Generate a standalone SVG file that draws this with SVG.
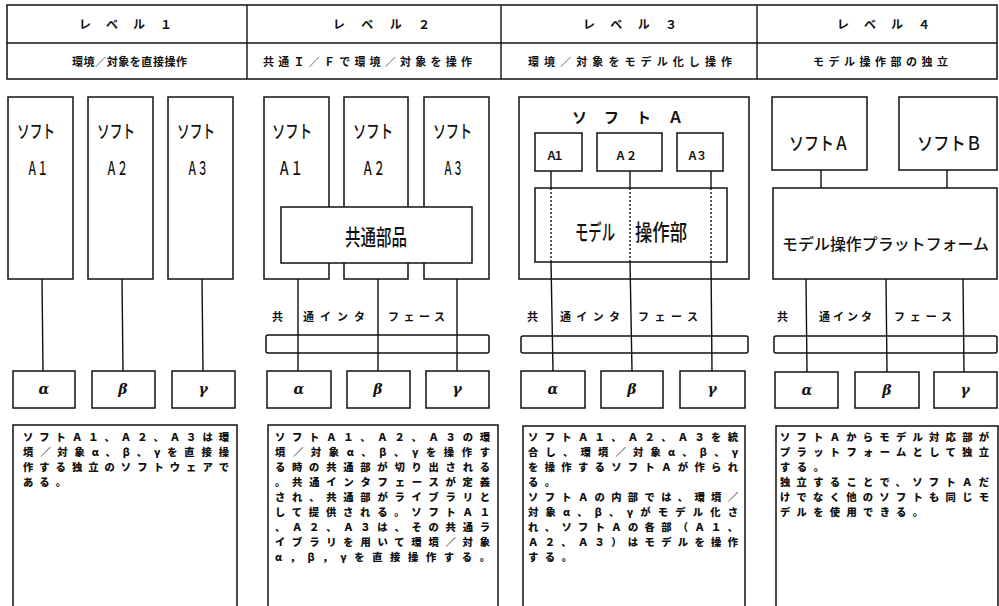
<svg xmlns="http://www.w3.org/2000/svg" width="999" height="606" viewBox="0 0 999 606">
<style>
rect{fill:#fff;stroke:#111;stroke-width:1.5}
line{stroke:#111;stroke-width:1.4}
.dot{stroke-dasharray:2 2}
text{fill:#111;font-family:"Noto Sans CJK JP","Noto Sans CJK SC",sans-serif}
.h1{font-size:12px;font-weight:700}
.h2{font-size:11px;font-weight:700}
.lb{font-size:18px;font-weight:500}
.pf{font-size:15.5px;font-weight:500}
.big{font-size:22px;font-weight:500}
.sm{font-size:11px;font-weight:700}
.gr{font-size:14px;font-weight:700;font-style:italic;font-family:"DejaVu Serif","Liberation Serif",serif}
.body{font-size:10.3px;font-weight:900}
</style>
<g id="header">
<rect x="7" y="5" width="990" height="74"/>
<line x1="7" y1="43" x2="997" y2="43"/>
<line x1="247" y1="5" x2="247" y2="79"/>
<line x1="501" y1="5" x2="501" y2="79"/>
<line x1="757" y1="5" x2="757" y2="79"/>
<text class="h1" x="79" y="29" textLength="93" lengthAdjust="spacing">レベル１</text>
<text class="h1" x="333" y="29" textLength="97" lengthAdjust="spacing">レベル２</text>
<text class="h1" x="583" y="29" textLength="94" lengthAdjust="spacing">レベル３</text>
<text class="h1" x="837" y="29" textLength="93" lengthAdjust="spacing">レベル４</text>
<text class="h2" x="72" y="66" textLength="115" lengthAdjust="spacing">環境／対象を直接操作</text>
<text class="h2" x="263" y="66" textLength="209" lengthAdjust="spacing">共通Ｉ／Ｆで環境／対象を操作</text>
<text class="h2" x="528" y="66" textLength="204" lengthAdjust="spacing">環境／対象をモデル化し操作</text>
<text class="h2" x="813" y="66" textLength="135" lengthAdjust="spacing">モデル操作部の独立</text>
</g>
<g id="connectors">
<line x1="42" y1="279" x2="43" y2="371"/>
<line x1="122" y1="279" x2="123" y2="371"/>
<line x1="202" y1="279" x2="203" y2="371"/>
<line x1="298" y1="263" x2="298" y2="371"/>
<line x1="378" y1="263" x2="378" y2="371"/>
<line x1="457" y1="263" x2="457" y2="371"/>
<line x1="551" y1="171" x2="551" y2="188"/>
<line x1="630" y1="171" x2="630" y2="188"/>
<line x1="711" y1="171" x2="711" y2="188"/>
<line class="dot" x1="551" y1="188" x2="551" y2="262"/>
<line class="dot" x1="630" y1="188" x2="630" y2="262"/>
<line class="dot" x1="711" y1="188" x2="711" y2="262"/>
<line x1="551" y1="262" x2="553" y2="371"/>
<line x1="630" y1="262" x2="632" y2="371"/>
<line x1="711" y1="262" x2="712" y2="371"/>
<line x1="821" y1="170" x2="821" y2="188"/>
<line x1="947" y1="170" x2="947" y2="188"/>
<line x1="806" y1="279" x2="807" y2="372"/>
<line x1="886" y1="279" x2="887" y2="372"/>
<line x1="963" y1="279" x2="964" y2="372"/>
</g>
<g id="level1">
<g id="l1-softA1"><rect x="8" y="97" width="65" height="182"/>
<text class="lb" x="17" y="138" textLength="38" lengthAdjust="spacingAndGlyphs">ソフト</text>
<text class="lb" x="27" y="175" textLength="21" lengthAdjust="spacingAndGlyphs">Ａ１</text></g>
<g id="l1-softA2"><rect x="88" y="97" width="65" height="182"/>
<text class="lb" x="97" y="138" textLength="38" lengthAdjust="spacingAndGlyphs">ソフト</text>
<text class="lb" x="106" y="175" textLength="22" lengthAdjust="spacingAndGlyphs">Ａ２</text></g>
<g id="l1-softA3"><rect x="168" y="97" width="65" height="182"/>
<text class="lb" x="177" y="138" textLength="38" lengthAdjust="spacingAndGlyphs">ソフト</text>
<text class="lb" x="187" y="175" textLength="21" lengthAdjust="spacingAndGlyphs">Ａ３</text></g>
<g id="l1-alpha"><rect x="13" y="371" width="62" height="37"/><text class="gr" x="44" y="394" text-anchor="middle">α</text></g>
<g id="l1-beta"><rect x="92" y="371" width="63" height="37"/><text class="gr" x="123" y="394" text-anchor="middle">β</text></g>
<g id="l1-gamma"><rect x="172" y="371" width="63" height="37"/><text class="gr" x="203" y="394" text-anchor="middle">γ</text></g>
<g id="l1-desc"><rect x="13" y="425" width="224" height="200"/>
<text class="body" x="23" y="441" textLength="206" lengthAdjust="spacing">ソフトＡ１、Ａ２、Ａ３は環</text>
<text class="body" x="23" y="456" textLength="206" lengthAdjust="spacing">境／対象α、β、γを直接操</text>
<text class="body" x="23" y="471" textLength="206" lengthAdjust="spacing">作する独立のソフトウェアで</text>
<text class="body" x="23" y="486" textLength="43" lengthAdjust="spacing">ある。</text></g>
</g>
<g id="level2">
<g id="l2-softA1"><rect x="264" y="97" width="65" height="182"/>
<text class="lb" x="272" y="138" textLength="40" lengthAdjust="spacingAndGlyphs">ソフト</text>
<text class="lb" x="278" y="175" textLength="25" lengthAdjust="spacingAndGlyphs">Ａ１</text></g>
<g id="l2-softA2"><rect x="344" y="97" width="64" height="182"/>
<text class="lb" x="353" y="138" textLength="40" lengthAdjust="spacingAndGlyphs">ソフト</text>
<text class="lb" x="362" y="175" textLength="23" lengthAdjust="spacingAndGlyphs">Ａ２</text></g>
<g id="l2-softA3"><rect x="424" y="97" width="65" height="182"/>
<text class="lb" x="433" y="138" textLength="39" lengthAdjust="spacingAndGlyphs">ソフト</text>
<text class="lb" x="443" y="175" textLength="20" lengthAdjust="spacingAndGlyphs">Ａ３</text></g>
<g id="l2-common"><rect x="281" y="207" width="191" height="56"/>
<text class="big" x="345" y="245" textLength="62" lengthAdjust="spacingAndGlyphs">共通部品</text></g>
<g id="l2-if"><rect x="266" y="335" width="223" height="18" rx="2"/>
<text class="sm" x="272" y="321">共</text>
<text class="sm" x="303" y="321" textLength="62" lengthAdjust="spacing">通インタ</text>
<text class="sm" x="388" y="321" textLength="57" lengthAdjust="spacing">フェース</text></g>
<line x1="298" y1="335" x2="298" y2="353"/><line x1="378" y1="335" x2="378" y2="353"/><line x1="457" y1="335" x2="457" y2="353"/>
<g id="l2-alpha"><rect x="267" y="371" width="64" height="37"/><text class="gr" x="299" y="394" text-anchor="middle">α</text></g>
<g id="l2-beta"><rect x="347" y="371" width="63" height="37"/><text class="gr" x="378" y="394" text-anchor="middle">β</text></g>
<g id="l2-gamma"><rect x="426" y="371" width="63" height="37"/><text class="gr" x="457" y="394" text-anchor="middle">γ</text></g>
<g id="l2-desc"><rect x="268" y="425" width="230" height="200"/>
<text class="body" x="275" y="441" textLength="215" lengthAdjust="spacing">ソフトＡ１、Ａ２、Ａ３の環</text>
<text class="body" x="275" y="456" textLength="215" lengthAdjust="spacing">境／対象α、β、γを操作す</text>
<text class="body" x="275" y="471" textLength="215" lengthAdjust="spacing">る時の共通部が切り出される</text>
<text class="body" x="275" y="486" textLength="215" lengthAdjust="spacing">。共通インタフェースが定義</text>
<text class="body" x="275" y="501" textLength="215" lengthAdjust="spacing">され、共通部がライブラリと</text>
<text class="body" x="275" y="516" textLength="215" lengthAdjust="spacing">して提供される。ソフトＡ１</text>
<text class="body" x="275" y="531" textLength="215" lengthAdjust="spacing">、Ａ２、Ａ３は、その共通ラ</text>
<text class="body" x="275" y="546" textLength="215" lengthAdjust="spacing">イブラリを用いて環境／対象</text>
<text class="body" x="275" y="561" textLength="215" lengthAdjust="spacing">α，β，γを直接操作する。</text></g>
</g>
<g id="level3">
<g id="l3-softA"><rect x="519" y="97" width="230" height="182" style="fill:none"/>
<text class="h1" x="572" y="123" textLength="111" lengthAdjust="spacing" style="font-size:15px">ソフトＡ</text></g>
<g id="l3-A1"><rect x="535" y="133" width="47" height="38"/><text class="sm" x="546" y="160" textLength="18" lengthAdjust="spacing">Ａ１</text></g>
<g id="l3-A2"><rect x="597" y="133" width="65" height="38"/><text class="sm" x="615" y="160" textLength="22" lengthAdjust="spacing">Ａ２</text></g>
<g id="l3-A3"><rect x="677" y="133" width="46" height="38"/><text class="sm" x="687" y="160" textLength="20" lengthAdjust="spacing">Ａ３</text></g>
<g id="l3-model"><rect x="535" y="188" width="192" height="74" style="fill:none"/>
<text class="big" x="575" y="240" textLength="40" lengthAdjust="spacingAndGlyphs">モデル</text>
<text class="big" x="635" y="240" textLength="52" lengthAdjust="spacingAndGlyphs">操作部</text></g>
<g id="l3-if"><rect x="521" y="336" width="227" height="17" rx="2" style="fill:none"/>
<text class="sm" x="527" y="321">共</text>
<text class="sm" x="560" y="321" textLength="60" lengthAdjust="spacing">通インタ</text>
<text class="sm" x="638" y="321" textLength="60" lengthAdjust="spacing">フェース</text></g>
<g id="l3-alpha"><rect x="521" y="371" width="64" height="37"/><text class="gr" x="553" y="394" text-anchor="middle">α</text></g>
<g id="l3-beta"><rect x="601" y="371" width="62" height="37"/><text class="gr" x="632" y="394" text-anchor="middle">β</text></g>
<g id="l3-gamma"><rect x="680" y="371" width="65" height="37"/><text class="gr" x="712" y="394" text-anchor="middle">γ</text></g>
<g id="l3-desc"><rect x="523" y="426" width="222" height="200"/>
<text class="body" x="528" y="441" textLength="210" lengthAdjust="spacing">ソフトＡ１、Ａ２、Ａ３を統</text>
<text class="body" x="528" y="456" textLength="210" lengthAdjust="spacing">合し、環境／対象α、β、γ</text>
<text class="body" x="528" y="471" textLength="210" lengthAdjust="spacing">を操作するソフトＡが作られ</text>
<text class="body" x="528" y="486" textLength="27" lengthAdjust="spacing">る。</text>
<text class="body" x="528" y="501" textLength="210" lengthAdjust="spacing">ソフトＡの内部では、環境／</text>
<text class="body" x="528" y="516" textLength="210" lengthAdjust="spacing">対象α、β、γがモデル化さ</text>
<text class="body" x="528" y="531" textLength="210" lengthAdjust="spacing">れ、ソフトＡの各部（Ａ１、</text>
<text class="body" x="528" y="546" textLength="210" lengthAdjust="spacing">Ａ２、Ａ３）はモデルを操作</text>
<text class="body" x="528" y="561" textLength="44" lengthAdjust="spacing">する。</text></g>
</g>
<g id="level4">
<g id="l4-softA"><rect x="772" y="97" width="95" height="73"/>
<text class="lb" x="789" y="150" textLength="60" lengthAdjust="spacingAndGlyphs">ソフトＡ</text></g>
<g id="l4-softB"><rect x="899" y="97" width="98" height="73"/>
<text class="lb" x="917" y="150" textLength="65" lengthAdjust="spacingAndGlyphs">ソフトＢ</text></g>
<g id="l4-platform"><rect x="773" y="188" width="224" height="91"/>
<text class="pf" x="782" y="250" textLength="207" lengthAdjust="spacingAndGlyphs">モデル操作プラットフォーム</text></g>
<g id="l4-if"><rect x="774" y="336" width="223" height="17" rx="2" style="fill:none"/>
<text class="sm" x="777" y="321">共</text>
<text class="sm" x="819" y="321" textLength="53" lengthAdjust="spacing">通インタ</text>
<text class="sm" x="894" y="321" textLength="58" lengthAdjust="spacing">フェース</text></g>
<g id="l4-alpha"><rect x="775" y="372" width="63" height="36"/><text class="gr" x="807" y="395" text-anchor="middle">α</text></g>
<g id="l4-beta"><rect x="855" y="372" width="64" height="36"/><text class="gr" x="887" y="395" text-anchor="middle">β</text></g>
<g id="l4-gamma"><rect x="934" y="372" width="63" height="36"/><text class="gr" x="965" y="395" text-anchor="middle">γ</text></g>
<g id="l4-desc"><rect x="776" y="426" width="222" height="200"/>
<text class="body" x="780" y="441" textLength="209" lengthAdjust="spacing">ソフトＡからモデル対応部が</text>
<text class="body" x="780" y="456" textLength="209" lengthAdjust="spacing">プラットフォームとして独立</text>
<text class="body" x="780" y="471" textLength="44" lengthAdjust="spacing">する。</text>
<text class="body" x="780" y="486" textLength="209" lengthAdjust="spacing">独立することで、ソフトＡだ</text>
<text class="body" x="780" y="501" textLength="209" lengthAdjust="spacing">けでなく他のソフトも同じモ</text>
<text class="body" x="780" y="516" textLength="143" lengthAdjust="spacing">デルを使用できる。</text></g>
</g>
</svg>
